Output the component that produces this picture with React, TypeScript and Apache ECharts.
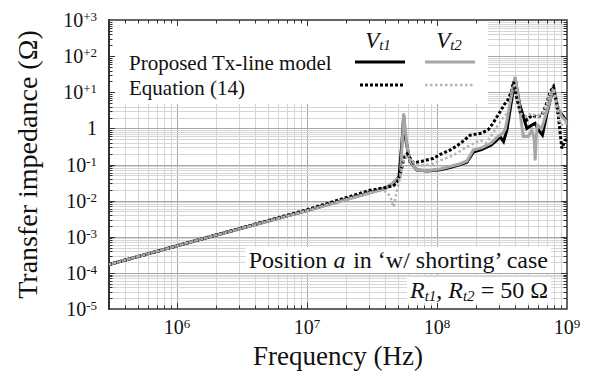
import React, { useEffect, useRef } from 'react';
import * as echarts from 'echarts';

const FONT = 'Liberation Serif, serif';

// Axis ranges and tick positions
const X_MIN = 3e5;
const X_MAX = 1e9;
const Y_MIN = 1e-5;
const Y_MAX = 1e3;
const X_DECADES = [1e5, 1e6, 1e7, 1e8, 1e9];
const Y_DECADES = [1e-5, 1e-4, 1e-3, 1e-2, 1e-1, 1, 1e1, 1e2, 1e3];
const MULTIPLIERS = [1, 2, 3, 4, 5, 6, 7, 8, 9];

// Proposed Tx-line model, Vt1 (black solid)
const freqModelVt1 = [3e5, 1.5e6, 1e7, 3e7, 4.0e7, 4.6e7, 5.1e7, 5.4e7, 5.54e7, 5.7e7, 5.9e7, 6.2e7, 7.0e7, 8.4e7, 1.06e8, 1.26e8, 1.51e8, 1.7e8, 1.9e8, 2.2e8, 2.6e8, 2.85e8, 3.06e8, 3.25e8, 3.45e8, 3.7e8, 3.99e8, 4.3e8, 4.62e8, 4.91e8, 5.37e8, 5.69e8, 6.03e8, 6.47e8, 7.0e8, 7.5e8, 7.87e8, 8.59e8, 9.38e8, 1e9];
const zModelVt1 = [1.7e-4, 8.4e-4, 5.3e-3, 0.0165, 0.022, 0.03, 0.045, 0.5, 2.3, 0.6, 0.3, 0.12, 0.07, 0.066, 0.072, 0.082, 0.1, 0.115, 0.22, 0.26, 0.34, 0.45, 0.58, 0.43, 0.9, 4.5, 24, 5, 2.1, 1.0, 1.23, 1.38, 0.9, 0.65, 2.5, 7, 12.8, 3.2, 2.1, 1.5];

// Proposed Tx-line model, Vt2 (grey solid)
const freqModelVt2 = [3e5, 1.5e6, 1e7, 3e7, 4.0e7, 4.4e7, 4.8e7, 5.23e7, 5.45e7, 5.54e7, 5.71e7, 5.89e7, 6.24e7, 7.0e7, 8.4e7, 1.06e8, 1.26e8, 1.51e8, 1.7e8, 1.9e8, 2.2e8, 2.6e8, 2.97e8, 3.2e8, 3.35e8, 3.45e8, 3.7e8, 3.99e8, 4.3e8, 4.5e8, 4.62e8, 5.05e8, 5.37e8, 5.6e8, 5.69e8, 5.8e8, 5.92e8, 6.4e8, 7.0e8, 7.41e8, 7.87e8, 8.4e8, 9.12e8, 1e9];
const zModelVt2 = [1.7e-4, 8.4e-4, 5.3e-3, 0.016, 0.022, 0.027, 0.037, 0.046, 0.73, 2.6, 0.9, 0.31, 0.12, 0.07, 0.067, 0.075, 0.088, 0.105, 0.125, 0.25, 0.29, 0.39, 0.62, 0.72, 0.95, 1.6, 7, 26.8, 4.5, 1.1, 0.6, 0.6, 0.9, 0.5, 0.13, 0.6, 1.23, 1.0, 3, 6, 15.8, 4.5, 2.1, 1.5];

// Equation (14), Vt1 (black dotted)
const freqEqVt1 = [3e5, 1.5e6, 1e7, 3e7, 4.0e7, 4.64e7, 5.0e7, 5.23e7, 5.5e7, 5.71e7, 5.89e7, 6.2e7, 6.6e7, 7.8e7, 9.4e7, 1.06e8, 1.26e8, 1.51e8, 1.8e8, 2.2e8, 2.5e8, 2.7e8, 3.06e8, 3.3e8, 3.55e8, 3.75e8, 3.88e8, 4.1e8, 4.36e8, 4.91e8, 5.37e8, 5.86e8, 6.4e8, 7.0e8, 7.41e8, 7.87e8, 8.3e8, 8.59e8, 9.12e8, 9.67e8, 1e9];
const zEqVt1 = [1.7e-4, 8.4e-4, 5.6e-3, 0.019, 0.023, 0.026, 0.035, 0.058, 0.12, 0.182, 0.2, 0.15, 0.11, 0.125, 0.148, 0.19, 0.25, 0.38, 0.65, 0.73, 0.95, 1.4, 2.9, 4.6, 6.5, 11, 19.5, 7, 2.9, 1.7, 2.3, 2.1, 2.3, 5, 10.3, 14.2, 5, 2.1, 0.28, 0.47, 0.5];

// Equation (14), Vt2 (grey dotted)
const freqEqVt2 = [3e5, 1.5e6, 1e7, 3e7, 3.8e7, 4.13e7, 4.38e7, 4.64e7, 4.93e7, 5.23e7, 5.54e7, 5.89e7, 6.43e7, 7.0e7, 8.0e7, 9.4e7, 1.06e8, 1.34e8, 1.7e8, 2.15e8, 2.4e8, 2.89e8, 3.16e8, 3.35e8, 3.6e8, 3.77e8, 3.99e8, 4.2e8, 4.36e8, 4.91e8, 5.3e8, 5.7e8, 6.0e8, 6.5e8, 7.0e8, 7.41e8, 7.87e8, 8.3e8, 8.85e8, 9.5e8, 1e9];
const zEqVt2 = [1.7e-4, 8.4e-4, 5.3e-3, 0.0165, 0.019, 0.017, 0.0127, 0.0067, 0.0195, 0.046, 0.13, 0.17, 0.12, 0.1, 0.095, 0.107, 0.13, 0.18, 0.31, 0.47, 0.39, 1.1, 1.8, 2.3, 3.5, 11.5, 17.7, 6, 2.6, 2.1, 2.6, 2.3, 2.2, 2.6, 4.5, 9, 12.8, 5, 1.3, 1.2, 1.5];

const zip = (f: number[], z: number[]) => f.map((v, i) => [v, z[i]]);

const gridValues = (decades: number[], lo: number, hi: number) => {
  const out: number[] = [];
  decades.forEach((d) =>
    MULTIPLIERS.forEach((m) => {
      const v = m * d;
      if (v > lo * 1.0001 && v < hi * 0.9999) out.push(v);
    })
  );
  return out;
};

const isDecade = (v: number) => {
  const e = Math.log10(v);
  return Math.abs(e - Math.round(e)) < 1e-4;
};

const X_GRID = gridValues(X_DECADES, X_MIN, X_MAX);
const Y_GRID = gridValues(Y_DECADES, Y_MIN, Y_MAX);

const labelRich = {
  b: { fontFamily: FONT, fontSize: 20, lineHeight: 20, color: '#111' },
  s: { fontFamily: FONT, fontSize: 13, lineHeight: 13, color: '#111', verticalAlign: 'top' as const },
};

export default function App() {
  const ref = useRef<HTMLDivElement>(null);
  useEffect(() => {
    if (!ref.current) return;
    const chart = echarts.init(ref.current, undefined, { renderer: 'svg' });

    const lineSeries = (name: string, f: number[], z: number[], color: string, width: number, type: any, zz: number) => ({
      type: 'line',
      name,
      data: zip(f, z),
      showSymbol: false,
      symbol: 'none',
      z: zz,
      silent: true,
      clip: true,
      lineStyle: { color, width, type, cap: 'butt', join: 'miter' },
      emphasis: { disabled: true },
    });

    const option: any = {
      animation: false,
      backgroundColor: '#ffffff',
      grid: {
        left: 109,
        top: 20,
        right: 31,
        bottom: 73,
        show: true,
        borderColor: '#333',
        borderWidth: 1.5,
        backgroundColor: 'transparent',
        containLabel: false,
        outerBoundsMode: 'none',
      },
      xAxis: {
        type: 'log',
        logBase: 10,
        min: X_MIN,
        max: X_MAX,
        name: 'Frequency (Hz)',
        nameLocation: 'middle',
        nameGap: 33,
        nameTextStyle: { fontFamily: FONT, fontSize: 27, color: '#111' },
        axisLine: { show: false },
        axisTick: { show: false },
        splitLine: { show: false },
        axisLabel: {
          margin: 8,
          formatter: (v: number) => {
            const e = Math.log10(v);
            const r = Math.round(e);
            if (Math.abs(e - r) > 0.01) return '';
            return `{b|10}{s|${r}}`;
          },
          rich: labelRich,
        },
      },
      yAxis: {
        type: 'log',
        logBase: 10,
        min: Y_MIN,
        max: Y_MAX,
        name: 'Transfer impedance (\u03A9)',
        nameLocation: 'middle',
        nameGap: 68,
        nameTextStyle: { fontFamily: FONT, fontSize: 28, color: '#111' },
        axisLine: { show: true, lineStyle: { color: '#333', width: 2 } },
        axisTick: { show: false },
        splitLine: { show: false },
        axisLabel: {
          margin: 12,
          formatter: (v: number) => {
            const r = Math.round(Math.log10(v));
            if (r === 0) return '{b|1}';
            return `{b|10}{s|${r > 0 ? '+' : '-'}${Math.abs(r)}}`;
          },
          rich: labelRich,
        },
      },
      series: [
        {
          type: 'custom',
          name: 'xgrid',
          silent: true,
          z: 1,
          data: X_GRID.map((v) => [v, 1]),
          encode: { x: 0, y: 1 },
          renderItem: (_p: any, api: any) => {
            const v = api.value(0);
            const a = api.coord([v, Y_MAX]);
            const b = api.coord([v, Y_MIN]);
            const x = Math.round(a[0]) + 0.5;
            return {
              type: 'line',
              shape: { x1: x, y1: a[1], x2: x, y2: b[1] },
              style: { stroke: isDecade(v) ? '#a8a8a8' : '#d6d6d6', lineWidth: 1 },
            };
          },
        },
        {
          type: 'custom',
          name: 'ygrid',
          silent: true,
          z: 1,
          data: Y_GRID.map((v) => [1e6, v]),
          encode: { x: 0, y: 1 },
          renderItem: (_p: any, api: any) => {
            const v = api.value(1);
            const a = api.coord([X_MIN, v]);
            const b = api.coord([X_MAX, v]);
            const y = Math.round(a[1]) + 0.5;
            return {
              type: 'line',
              shape: { x1: a[0], y1: y, x2: b[0], y2: y },
              style: { stroke: isDecade(v) ? '#a8a8a8' : '#d6d6d6', lineWidth: 1 },
            };
          },
        },
        {
          type: 'custom',
          name: 'xticks',
          silent: true,
          z: 4,
          clip: false,
          data: X_GRID.map((v) => [v, 1]),
          encode: { x: 0, y: 1 },
          renderItem: (_p: any, api: any) => {
            const v = api.value(0);
            const a = api.coord([v, Y_MAX]);
            const b = api.coord([v, Y_MIN]);
            const len = isDecade(v) ? 6 : 3.5;
            const x = Math.round(a[0]) + 0.5;
            return {
              type: 'group',
              children: [
                { type: 'line', shape: { x1: x, y1: b[1], x2: x, y2: b[1] - len }, style: { stroke: '#333', lineWidth: 1 } },
                { type: 'line', shape: { x1: x, y1: a[1], x2: x, y2: a[1] + len }, style: { stroke: '#333', lineWidth: 1 } },
              ],
            };
          },
        },
        {
          type: 'custom',
          name: 'yticks',
          silent: true,
          z: 4,
          clip: false,
          data: Y_GRID.map((v) => [1e6, v]),
          encode: { x: 0, y: 1 },
          renderItem: (_p: any, api: any) => {
            const v = api.value(1);
            const a = api.coord([X_MIN, v]);
            const b = api.coord([X_MAX, v]);
            const len = isDecade(v) ? 6 : 3.5;
            const y = Math.round(a[1]) + 0.5;
            return {
              type: 'group',
              children: [
                { type: 'line', shape: { x1: a[0], y1: y, x2: a[0] + len, y2: y }, style: { stroke: '#333', lineWidth: 1 } },
                { type: 'line', shape: { x1: b[0], y1: y, x2: b[0] - len, y2: y }, style: { stroke: '#333', lineWidth: 1 } },
              ],
            };
          },
        },
        lineSeries('Proposed Tx-line model Vt1', freqModelVt1, zModelVt1, '#000000', 3, 'solid', 5),
        lineSeries('Proposed Tx-line model Vt2', freqModelVt2, zModelVt2, '#a6a6a6', 3, 'solid', 6),
        lineSeries('Equation (14) Vt1', freqEqVt1, zEqVt1, '#000000', 3, [3, 2], 7),
        lineSeries('Equation (14) Vt2', freqEqVt2, zEqVt2, '#b4b4b4', 2.5, [2.5, 2.5], 8),
      ],
      graphic: [
        { type: 'rect', z: 3, silent: true, shape: { x: 110, y: 21, width: 378, height: 83 }, style: { fill: '#ffffff' } },
        {
          type: 'text', z: 10, silent: true,
          style: {
            text: '{v|V}{t|t1}', x: 378, y: 40, align: 'center', verticalAlign: 'middle',
            rich: {
              v: { fontFamily: FONT, fontStyle: 'italic', fontSize: 23, lineHeight: 24, fill: '#111' },
              t: { fontFamily: FONT, fontStyle: 'italic', fontSize: 15, lineHeight: 14, fill: '#111', verticalAlign: 'bottom' },
            },
          },
        },
        {
          type: 'text', z: 10, silent: true,
          style: {
            text: '{v|V}{t|t2}', x: 449, y: 40, align: 'center', verticalAlign: 'middle',
            rich: {
              v: { fontFamily: FONT, fontStyle: 'italic', fontSize: 23, lineHeight: 24, fill: '#111' },
              t: { fontFamily: FONT, fontStyle: 'italic', fontSize: 15, lineHeight: 14, fill: '#111', verticalAlign: 'bottom' },
            },
          },
        },
        {
          type: 'text', z: 10, silent: true,
          style: { text: 'Proposed Tx-line model', x: 129, y: 63, align: 'left', verticalAlign: 'middle', fontFamily: FONT, fontSize: 21, fill: '#111' },
        },
        {
          type: 'text', z: 10, silent: true,
          style: { text: 'Equation (14)', x: 129, y: 88, align: 'left', verticalAlign: 'middle', fontFamily: FONT, fontSize: 21, fill: '#111' },
        },
        { type: 'line', z: 10, silent: true, shape: { x1: 355, y1: 62, x2: 405, y2: 62 }, style: { stroke: '#000', lineWidth: 3 } },
        { type: 'line', z: 10, silent: true, shape: { x1: 425, y1: 62, x2: 475, y2: 62 }, style: { stroke: '#a6a6a6', lineWidth: 3 } },
        { type: 'line', z: 10, silent: true, shape: { x1: 360, y1: 85, x2: 405, y2: 85 }, style: { stroke: '#000', lineWidth: 3, lineDash: [3, 2] } },
        { type: 'line', z: 10, silent: true, shape: { x1: 425, y1: 85, x2: 475, y2: 85 }, style: { stroke: '#b4b4b4', lineWidth: 2.5, lineDash: [2.5, 2.5] } },
        {
          type: 'text', z: 3, silent: true,
          style: {
            text: '{n|Position }{i|a}{n| in \u2018w/ shorting\u2019 case}', x: 551, y: 260, align: 'right', verticalAlign: 'middle',
            backgroundColor: '#ffffff', padding: [0, 3],
            rich: {
              n: { fontFamily: FONT, fontSize: 24, lineHeight: 26, fill: '#111' },
              i: { fontFamily: FONT, fontStyle: 'italic', fontSize: 24, lineHeight: 26, fill: '#111' },
            },
          },
        },
        {
          type: 'text', z: 3, silent: true,
          style: {
            text: '{i|R}{s|t1}{n|, }{i|R}{s|t2}{n| = 50 \u03A9}', x: 551, y: 290, align: 'right', verticalAlign: 'middle',
            backgroundColor: '#ffffff', padding: [0, 3],
            rich: {
              n: { fontFamily: FONT, fontSize: 24, lineHeight: 26, fill: '#111' },
              i: { fontFamily: FONT, fontStyle: 'italic', fontSize: 24, lineHeight: 26, fill: '#111' },
              s: { fontFamily: FONT, fontStyle: 'italic', fontSize: 15, lineHeight: 15, fill: '#111', verticalAlign: 'bottom' },
            },
          },
        },
      ],
    };

    chart.setOption(option);
    return () => chart.dispose();
  }, []);

  return <div ref={ref} style={{ position: 'fixed', left: 0, top: 0, width: 598, height: 382 }} />;
}
